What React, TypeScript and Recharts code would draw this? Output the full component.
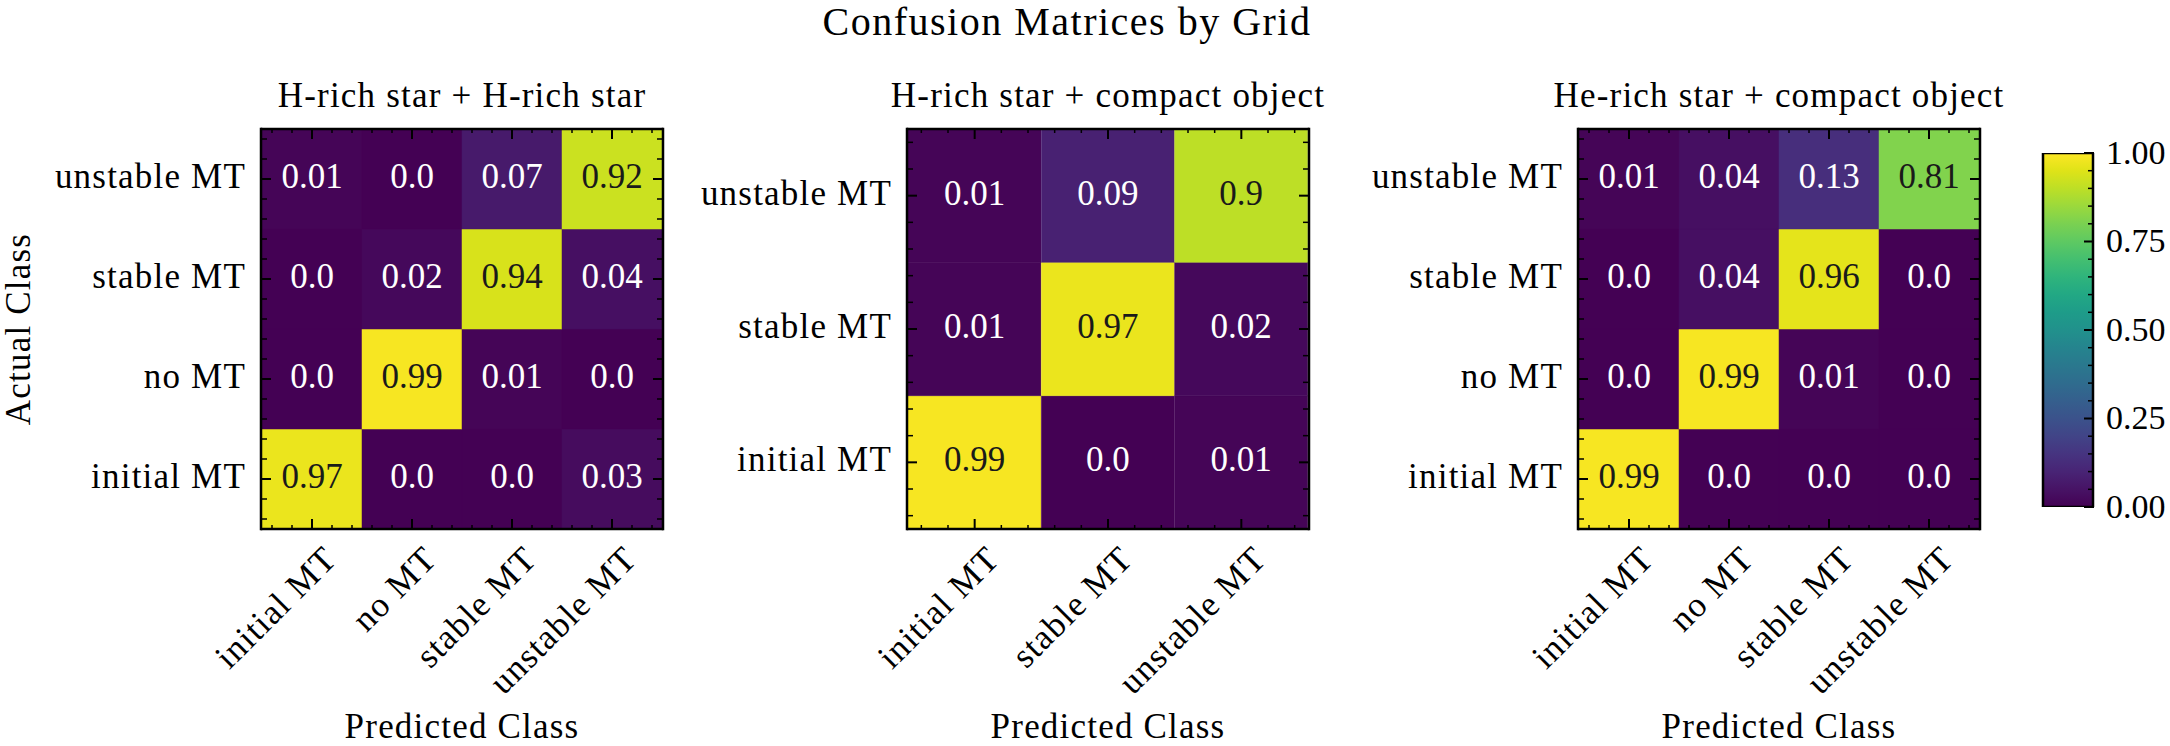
import React from 'react';
import { BarChart, Bar, XAxis, YAxis, Cell, LabelList } from 'recharts';

// ---------- text ----------
const SUPTITLE = 'Confusion Matrices by Grid';
const X_LABEL = 'Predicted Class';
const Y_LABEL = 'Actual Class';

// ---------- categories ----------
const CLASSES_4 = ['initial MT', 'no MT', 'stable MT', 'unstable MT'];
const CLASSES_3 = ['initial MT', 'stable MT', 'unstable MT'];

// ---------- panel 1: rows = actual class, columns = predicted class ----------
const HH_TITLE = 'H-rich star + H-rich star';
const HH_INITIAL = [0.97, 0.0, 0.0, 0.03];
const HH_NO = [0.0, 0.99, 0.01, 0.0];
const HH_STABLE = [0.0, 0.02, 0.94, 0.04];
const HH_UNSTABLE = [0.01, 0.0, 0.07, 0.92];

// ---------- panel 2 ----------
const HCO_TITLE = 'H-rich star + compact object';
const HCO_INITIAL = [0.99, 0.0, 0.01];
const HCO_STABLE = [0.01, 0.97, 0.02];
const HCO_UNSTABLE = [0.01, 0.09, 0.9];

// ---------- panel 3 ----------
const HECO_TITLE = 'He-rich star + compact object';
const HECO_INITIAL = [0.99, 0.0, 0.0, 0.0];
const HECO_NO = [0.0, 0.99, 0.01, 0.0];
const HECO_STABLE = [0.0, 0.04, 0.96, 0.0];
const HECO_UNSTABLE = [0.01, 0.04, 0.13, 0.81];

// ---------- colorbar ----------
const COLORBAR_DOMAIN = [0, 1];
const COLORBAR_TICKS = [0, 0.25, 0.5, 0.75, 1];

// ---------- style ----------
const FONT = '"Liberation Serif", "Times New Roman", serif';
const VIRIDIS = [
  '#440154', '#471365', '#482475', '#463480', '#414487', '#3b528b', '#355f8d',
  '#2f6c8e', '#2a788e', '#25848e', '#21918c', '#1e9c89', '#22a884', '#2fb47c',
  '#44bf70', '#5ec962', '#7ad151', '#9bd93c', '#bddf26', '#dfe318', '#fde725',
];

function hexToRgb(h: string) {
  return [parseInt(h.slice(1, 3), 16), parseInt(h.slice(3, 5), 16), parseInt(h.slice(5, 7), 16)];
}
function viridis(v: number) {
  const t = Math.max(0, Math.min(1, v)) * (VIRIDIS.length - 1);
  const i = Math.min(Math.floor(t), VIRIDIS.length - 2);
  const f = t - i;
  const a = hexToRgb(VIRIDIS[i]);
  const b = hexToRgb(VIRIDIS[i + 1]);
  const c = a.map((x, k) => Math.round(x + (b[k] - x) * f));
  return `rgb(${c[0]},${c[1]},${c[2]})`;
}
function fmt(v: number) {
  return Number.isInteger(v) ? v.toFixed(1) : String(v);
}

const MAJOR = { stroke: '#000', strokeWidth: 2 };
const MINOR = { stroke: '#000', strokeWidth: 1.5 };
const BORDER = { stroke: '#000', strokeWidth: 2.5, strokeLinecap: 'square' as const };

const Nothing = () => <g />;

const XTick = (p: any) => (
  <text
    transform={`translate(${p.x + 10},${p.y}) rotate(-45)`}
    textAnchor="end"
    dy="0.68em"
    fontSize={35}
    fontFamily={FONT}
    letterSpacing={1.2}
    fill="#000"
  >
    {p.payload.value}
  </text>
);

const makeYTick = (classes: string[]) => (p: any) => (
  <text x={p.x} y={p.y} dy="0.26em" textAnchor="end" fontSize={35} fontFamily={FONT} letterSpacing={1.2} fill="#000">
    {classes[Math.floor(p.payload.value)]}
  </text>
);

const CellLabel = (props: any) => {
  const vb = props.viewBox && props.viewBox.width !== undefined ? props.viewBox : props;
  const { x, y, width, height } = vb;
  const value = props.value;
  return (
    <text
      x={x + width / 2}
      y={y + height / 2}
      dy="0.26em"
      textAnchor="middle"
      fontSize={35}
      fontFamily={FONT}
      fill={value < 0.5 ? '#ffffff' : '#1a1a1a'}
    >
      {fmt(value)}
    </text>
  );
};

const CbTick = (p: any) => (
  <text x={p.x} y={p.y} dy="0.32em" textAnchor="start" fontSize={34} fontFamily={FONT} fill="#000">
    {Number(p.payload.value).toFixed(2)}
  </text>
);

type PanelProps = {
  classes: string[];
  rows: number[][]; // bottom (first) to top (last), each row = actual class
  left: number;
  width: number;
  marginLeft: number;
  marginRight: number;
};

// every side carries two 1px-thick axes (major + minor ticks): margins compensate for them
function Panel({ classes, rows, left, width, marginLeft, marginRight }: PanelProps) {
  const n = classes.length;
  const table = classes.map((c, j) => {
    const o: any = { pred: c, xi: j };
    rows.forEach((r, i) => {
      o['r' + i] = 1;
      o['v' + i] = r[j];
    });
    return o;
  });
  const minorX: number[] = [];
  for (let k = -2; k <= 5 * n - 3; k++) if (k % 5 !== 0) minorX.push(k / 5);
  const majorY = classes.map((_, i) => i + 0.5);
  const minorY: number[] = [];
  for (let k = 1; k < 10 * n; k += 2) if (k % 10 !== 5) minorY.push(k / 10);
  const YTick = makeYTick(classes);

  return (
    <div style={{ position: 'absolute', left, top: 0 }}>
      <BarChart
        width={width}
        height={746}
        data={table}
        margin={{ top: 127, bottom: 215, left: marginLeft - 2, right: marginRight - 2 }}
        barCategoryGap={0}
        barGap={0}
      >
        {rows.map((r, i) => (
          <Bar key={i} dataKey={'r' + i} stackId="s" xAxisId="cat" yAxisId="num" isAnimationActive={false}>
            {r.map((v, j) => (
              <Cell key={j} fill={viridis(v)} stroke={viridis(v)} strokeWidth={0.5} />
            ))}
            <LabelList dataKey={'v' + i} content={CellLabel} />
          </Bar>
        ))}
        <XAxis xAxisId="cat" dataKey="pred" type="category" orientation="bottom" height={1} interval={0}
          tickSize={-10} tickMargin={25} tickLine={MAJOR} axisLine={BORDER} tick={XTick} />
        <XAxis xAxisId="minB" dataKey="xi" type="number" domain={[-0.5, n - 0.5]} allowDataOverflow ticks={minorX}
          orientation="bottom" height={1} interval={0} tickSize={-5} tickLine={MINOR} axisLine={false} tick={Nothing} />
        <XAxis xAxisId="catTop" dataKey="pred" type="category" orientation="top" height={1} interval={0}
          tickSize={-10} tickLine={MAJOR} axisLine={BORDER} tick={Nothing} />
        <XAxis xAxisId="minT" dataKey="xi" type="number" domain={[-0.5, n - 0.5]} allowDataOverflow ticks={minorX}
          orientation="top" height={1} interval={0} tickSize={-5} tickLine={MINOR} axisLine={false} tick={Nothing} />
        <YAxis yAxisId="num" type="number" domain={[0, n]} allowDataOverflow ticks={majorY} orientation="left"
          width={1} interval={0} tickSize={-10} tickMargin={25} tickLine={MAJOR} axisLine={BORDER} tick={YTick} />
        <YAxis yAxisId="minL" type="number" domain={[0, n]} allowDataOverflow ticks={minorY} orientation="left"
          width={1} interval={0} tickSize={-5} tickLine={MINOR} axisLine={false} tick={Nothing} />
        <YAxis yAxisId="numR" type="number" domain={[0, n]} allowDataOverflow ticks={majorY} orientation="right"
          width={1} interval={0} tickSize={-10} tickLine={MAJOR} axisLine={BORDER} tick={Nothing} />
        <YAxis yAxisId="minR" type="number" domain={[0, n]} allowDataOverflow ticks={minorY} orientation="right"
          width={1} interval={0} tickSize={-5} tickLine={MINOR} axisLine={false} tick={Nothing} />
      </BarChart>
    </div>
  );
}

function Colorbar() {
  const data = [{ name: 'cb', v: COLORBAR_DOMAIN[1] }];
  const minor: number[] = [];
  for (let k = 1; k < 20; k++) if (k % 5 !== 0) minor.push(k / 20);
  return (
    <div style={{ position: 'absolute', left: 1990, top: 0 }}>
      <BarChart
        width={180}
        height={746}
        data={data}
        margin={{ top: 153, bottom: 239, left: 53, right: 75 }}
        barCategoryGap={0}
        barGap={0}
      >
        <defs>
          <linearGradient id="cbGrad" x1="0" y1="1" x2="0" y2="0">
            {VIRIDIS.map((c, i) => (
              <stop key={i} offset={`${(i / (VIRIDIS.length - 1)) * 100}%`} stopColor={c} />
            ))}
          </linearGradient>
        </defs>
        <Bar dataKey="v" xAxisId="cbx" yAxisId="cby" fill="url(#cbGrad)" stroke="#000" strokeWidth={2.5}
          isAnimationActive={false} />
        <XAxis xAxisId="cbx" dataKey="name" hide />
        <YAxis yAxisId="cby" type="number" domain={COLORBAR_DOMAIN} allowDataOverflow ticks={COLORBAR_TICKS}
          orientation="right" width={1} interval={0} tickSize={-10} tickMargin={22} tickLine={MAJOR}
          axisLine={false} tick={CbTick} />
        <YAxis yAxisId="cbm" type="number" domain={COLORBAR_DOMAIN} allowDataOverflow ticks={minor}
          orientation="right" width={1} interval={0} tickSize={-5} tickLine={MINOR} axisLine={false} tick={Nothing} />
      </BarChart>
    </div>
  );
}

export default function App() {
  const txt = { fontFamily: FONT, fill: '#000' };
  return (
    <div
      style={{
        position: 'absolute',
        left: 0,
        top: 0,
        width: 2170,
        height: 746,
        background: '#fff',
        overflow: 'hidden',
      }}
    >
      <style>{`.recharts-surface { overflow: visible; }`}</style>
      <Panel classes={CLASSES_4} rows={[HH_INITIAL, HH_NO, HH_STABLE, HH_UNSTABLE]} left={0} width={700}
        marginLeft={262} marginRight={38} />
      <Panel classes={CLASSES_3} rows={[HCO_INITIAL, HCO_STABLE, HCO_UNSTABLE]} left={680} width={670}
        marginLeft={228} marginRight={42} />
      <Panel classes={CLASSES_4} rows={[HECO_INITIAL, HECO_NO, HECO_STABLE, HECO_UNSTABLE]} left={1340}
        width={690} marginLeft={239} marginRight={51} />
      <Colorbar />
      <svg
        width={2170}
        height={746}
        style={{ position: 'absolute', left: 0, top: 0, pointerEvents: 'none' }}
      >
        <text x={1067} y={35} textAnchor="middle" fontSize={40} letterSpacing={1.5} {...txt}>
          {SUPTITLE}
        </text>
        <text transform="translate(30,329) rotate(-90)" textAnchor="middle" fontSize={35} letterSpacing={1.2} {...txt}>
          {Y_LABEL}
        </text>
        <text x={462} y={107} textAnchor="middle" fontSize={35} letterSpacing={1.2} {...txt}>{HH_TITLE}</text>
        <text x={1108} y={107} textAnchor="middle" fontSize={35} letterSpacing={1.2} {...txt}>{HCO_TITLE}</text>
        <text x={1779} y={107} textAnchor="middle" fontSize={35} letterSpacing={1.2} {...txt}>{HECO_TITLE}</text>
        <text x={462} y={738} textAnchor="middle" fontSize={35} letterSpacing={1.2} {...txt}>{X_LABEL}</text>
        <text x={1108} y={738} textAnchor="middle" fontSize={35} letterSpacing={1.2} {...txt}>{X_LABEL}</text>
        <text x={1779} y={738} textAnchor="middle" fontSize={35} letterSpacing={1.2} {...txt}>{X_LABEL}</text>
      </svg>
    </div>
  );
}
